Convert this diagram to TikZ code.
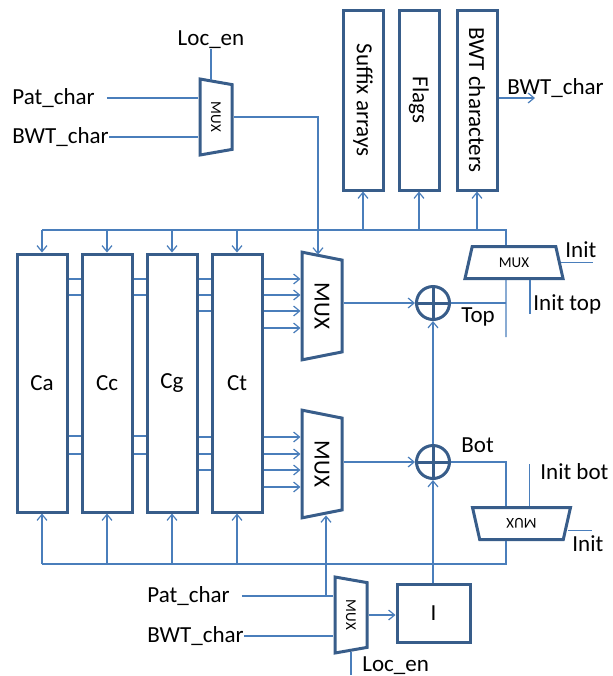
\documentclass[tikz,border=0pt]{standalone}
\usepackage{fontspec}
\setmainfont{Carlito}
\usetikzlibrary{shapes.geometric,arrows.meta,calc}
\definecolor{boxBlue}{RGB}{56,93,138}
\definecolor{wireBlue}{RGB}{74,126,187}
\tikzset{
  wire/.style={wireBlue, line width=0.6pt},
  arr/.style={wire, -{Straight Barb[length=3pt,width=5pt]}},
  blk/.style={draw=boxBlue, line width=1.5pt, rectangle, inner sep=0pt},
  mux/.style={draw=boxBlue, line width=1.5pt, trapezium, trapezium stretches=true,
    trapezium left angle=75, trapezium right angle=75, inner sep=0pt},
  bigmux/.style={mux, minimum width=54pt, minimum height=20pt},
  smallmux/.style={mux, minimum width=38pt, minimum height=16pt, font=\fontsize{7.5}{8}\selectfont},
  initmux/.style={mux, minimum width=49pt, minimum height=16pt, font=\fontsize{7.5}{8}\selectfont},
  adder/.style={circle, draw=boxBlue, line width=1.5pt, minimum size=16.5pt, inner sep=0pt,
    path picture={\draw[boxBlue, line width=1.5pt]
      (path picture bounding box.north) -- (path picture bounding box.south)
      (path picture bounding box.west) -- (path picture bounding box.east);}},
  lbl/.style={inner sep=0pt},
}
\begin{document}
\begin{tikzpicture}[x=0.5pt, y=-0.5pt, font=\fontsize{11.5}{13}\selectfont]
  \useasboundingbox (0,0) rectangle (613,676);
  % count blocks
  \node[blk, minimum width=25pt, minimum height=129pt] (ca) at (42,383) {Ca};
  \node[blk, minimum width=25pt, minimum height=129pt] (cc) at (107,383) {Cc};
  \node[blk, minimum width=25pt, minimum height=129pt] (cg) at (172,383) {Cg};
  \node[blk, minimum width=25pt, minimum height=129pt] (ct) at (237,383) {Ct};
  % memories
  \node[blk, minimum width=20pt, minimum height=90pt] (sa) at (363,100) {\rotatebox{-90}{Suffix arrays}};
  \node[blk, minimum width=20pt, minimum height=90pt] (fl) at (419,100) {\rotatebox{-90}{Flags}};
  \node[blk, minimum width=20pt, minimum height=90pt] (bc) at (477,100) {\rotatebox{-90}{BWT characters}};
  % muxes
  \node[smallmux, rotate=-90] (muxTL) at (216,117) {MUX};
  \node[bigmux, rotate=-90] (muxA) at (322,306) {MUX};
  \node[bigmux, rotate=-90] (muxB) at (322,464) {MUX};
  \node[smallmux, rotate=-90] (muxBL) at (351,615) {MUX};
  \node[initmux] (muxIT) at (514,262.5) {MUX};
  \node[initmux, rotate=180] (muxIB) at (521.5,523.5) {MUX};
  % adders and I
  \node[adder] (addT) at (433,303) {};
  \node[adder] (addB) at (433,462) {};
  \node[blk, minimum width=36.5pt, minimum height=29pt] (iblk) at (433.5,613) {I};
  % labels
  \node[lbl, anchor=west] (patT) at (12,98) {Pat\_char};
  \node[lbl, anchor=west] (bwtT) at (12,137) {BWT\_char};
  \node[lbl] (locT) at (211,40) {Loc\_en};
  \node[lbl, anchor=west] (bwtO) at (507,88) {BWT\_char};
  \node[lbl, anchor=west] (initT) at (565,250) {Init};
  \node[lbl, anchor=west] (initTop) at (533,304) {Init top};
  \node[lbl, anchor=west] (topL) at (461,317) {Top};
  \node[lbl, anchor=west] (botL) at (461,445) {Bot};
  \node[lbl, anchor=west] (initBot) at (540,472) {Init bot};
  \node[lbl, anchor=west] (initB) at (572,544) {Init};
  \node[lbl, anchor=west] (patB) at (147,596) {Pat\_char};
  \node[lbl, anchor=west] (bwtB) at (147,636) {BWT\_char};
  \node[lbl, anchor=west] (locB) at (362,666) {Loc\_en};
  % top select mux
  \draw[wire] ([xshift=6pt]patT.east) -- (muxTL.south |- patT);
  \draw[wire] (bwtT.east) -- (muxTL.south |- bwtT);
  \draw[wire] (locT.south) -- (locT.south |- muxTL.west);
  \draw[arr] (muxTL.north) -| ([xshift=-2pt]muxA.west);
  % top bus
  \coordinate (busT) at (506,230);
  \draw[wire] ([xshift=-4pt]muxIT.north) |- (ca.north |- busT);
  \foreach \c in {ca,cc,cg,ct} \draw[arr] (\c.north |- busT) -- (\c.north);
  \foreach \m in {sa,fl,bc} \draw[arr] (\m.south |- busT) -- (\m.south);
  \coordinate (bwtEnd) at (535,98);
  \draw[arr] (bc.east |- bwtEnd) -- (bwtEnd);
  % lines between counters
  \foreach \y in {279,295} {
    \draw[wire] (ca.east |- 0,\y) -- (cc.west |- 0,\y);
    \draw[wire] (cc.east |- 0,\y) -- (cg.west |- 0,\y);
  }
  \foreach \y in {279,295,311} \draw[wire] (cg.east |- 0,\y) -- (ct.west |- 0,\y);
  \foreach \y in {279,295,311,328} \draw[arr] (ct.east |- 0,\y) -- (muxA.south |- 0,\y);
  \foreach \y in {436,454} {
    \draw[wire] (ca.east |- 0,\y) -- (cc.west |- 0,\y);
    \draw[wire] (cc.east |- 0,\y) -- (cg.west |- 0,\y);
  }
  \foreach \y in {437,454,470} \draw[wire] (cg.east |- 0,\y) -- (ct.west |- 0,\y);
  \foreach \y in {437,454,470,487} \draw[arr] (ct.east |- 0,\y) -- (muxB.south |- 0,\y);
  % adders
  \draw[arr] (muxA.north |- addT) -- (addT.west);
  \draw[arr] (muxB.north |- addB) -- (addB.west);
  \draw[arr] (addB.north) -- (addT.south);
  \draw[arr] (addB.south |- iblk.north) -- (addB.south);
  % top feedback
  \coordinate (topEnd) at (506,337);
  \draw[wire] (addT.east) -- (addT.east -| topEnd);
  \draw[wire] ([xshift=-4pt]muxIT.south) -- (topEnd);
  \draw[wire] ([xshift=8pt]muxIT.south) -- ([xshift=8pt]muxIT.south |- initTop.south);
  \draw[wire] (muxIT.east) -- ([xshift=-2pt]initT.east |- muxIT.east);
  % bottom feedback
  \draw[wire] (addB.east) -| ([xshift=-7.75pt]muxIB.south);
  \coordinate (busB) at (506,564);
  \draw[wire] ([xshift=-7.75pt]muxIB.north) |- (ca.south |- busB);
  \foreach \c in {ca,cc,cg,ct} \draw[arr] (\c.south |- busB) -- (\c.south);
  \draw[wire] ([xshift=4pt]muxIB.south) -- ([xshift=4pt]muxIB.south |- initBot.north);
  \draw[wire] ([yshift=-3.5pt]muxIB.west) coordinate (ibSel) -- ([xshift=-6pt]initB.east |- ibSel);
  % bottom select mux
  \draw[wire] ([xshift=6pt]patB.east) -- (muxBL.south |- patB);
  \draw[wire] (bwtB.east) -- (muxBL.south |- bwtB);
  \draw[arr] ([xshift=2pt]muxB.east |- patB) -- ([xshift=2pt]muxB.east);
  \draw[arr] (muxBL.north) -- (iblk.west |- muxBL.north);
  \draw[wire] (muxBL.east) -- (muxBL.east |- locB.south);
\end{tikzpicture}
\end{document}
